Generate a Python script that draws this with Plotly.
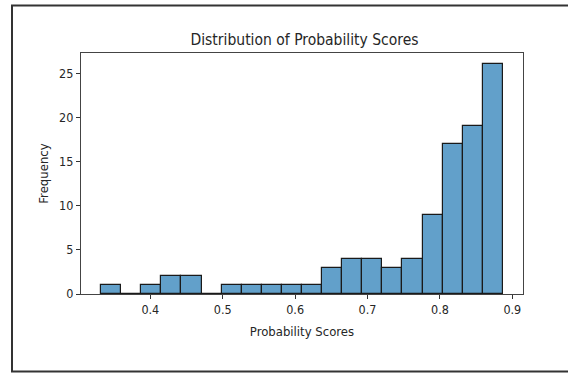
import numpy as np
import plotly.graph_objects as go

# Histogram data (20 equal-width bins)
bin_min = 0.332
bin_max = 0.887
n_bins = 20
counts = [1, 0, 1, 2, 2, 0, 1, 1, 1, 1, 1, 3, 4, 4, 3, 4, 9, 17, 19, 26]
x_ticks = [0.4, 0.5, 0.6, 0.7, 0.8, 0.9]
y_ticks = [0, 5, 10, 15, 20, 25]

edges = np.linspace(bin_min, bin_max, n_bins + 1)
centers = (edges[:-1] + edges[1:]) / 2
width = edges[1] - edges[0]

FONT = "DejaVu Sans Condensed, DejaVu Sans, sans-serif"

fig = go.Figure()
fig.add_trace(go.Bar(
    x=centers, y=counts, width=width,
    marker=dict(color="rgba(31,119,180,0.7)", line=dict(color="#1a1a1a", width=1.2)),
))

L, R, T, B = 81, 45, 53, 80
pw, ph = 568 - L - R, 374 - T - B

def px(x):
    return (x - L) / pw

def py(y):
    return (374 - B - y) / ph

span = bin_max - bin_min
fig.update_layout(
    width=568, height=374,
    margin=dict(l=L, r=R, t=T, b=B),
    paper_bgcolor="white", plot_bgcolor="white",
    showlegend=False,
    bargap=0,
    font=dict(family=FONT, size=12.5, color="#262626"),
    title=dict(text="Distribution of Probability Scores", x=304.5 / 568, xanchor="center",
               y=1 - 40 / 374, yanchor="middle",
               font=dict(family=FONT, size=15.5, color="#262626")),
    xaxis=dict(range=[bin_min - 0.05 * span, bin_max + 0.05 * span],
               tickvals=x_ticks, ticktext=[f"{v:g}" for v in x_ticks],
               ticks="outside", ticklen=4, tickcolor="#333", showgrid=False, zeroline=False,
               showline=True, linecolor="#444", linewidth=1.2, mirror=True,
               title=dict(text="Probability Scores", standoff=10, font=dict(size=13))),
    yaxis=dict(range=[0, max(counts) * 1.05],
               tickvals=y_ticks, ticks="outside", ticklen=4, tickcolor="#333",
               showgrid=False, zeroline=False,
               showline=True, linecolor="#444", linewidth=1.2, mirror=True,
               title=dict(text="Frequency", standoff=7, font=dict(size=13))),
    shapes=[dict(type="path", xref="paper", yref="paper", layer="above",
                 path=(f"M {px(568)} {py(5.5)} L {px(12)} {py(5.5)} "
                       f"L {px(12)} {py(371.5)} L {px(568)} {py(371.5)}"),
                 line=dict(color="#333", width=2))],
)

fig.write_html("out.html")
